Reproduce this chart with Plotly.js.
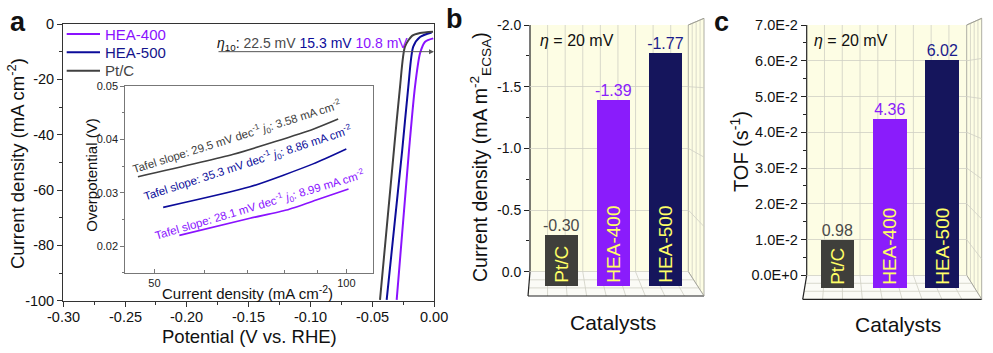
<!DOCTYPE html>
<html><head><meta charset="utf-8">
<script src="https://cdn.plot.ly/plotly-3.0.1.min.js"></script>
<style>html,body{margin:0;padding:0;background:#fff}#chart{width:993px;height:353px}</style>
</head><body><div id="chart"></div>
<script>
// ---------- DATA ----------
// Panel a: LSV polarization curves (potential V vs RHE, current density mA cm-2)
const seriesNames = ['HEA-400', 'HEA-500', 'Pt/C'];
const hea400Potential = [-0.0302, -0.0202, -0.0154, -0.0113, -0.0072, -0.0006];
const hea400Current   = [-99.7, -45.5, -22.7, -10.6, -6.4, -5.2];
const hea500Potential = [-0.0383, -0.0257, -0.0208, -0.0168, -0.0113, -0.0019];
const hea500Current   = [-99.7, -45.5, -22.7, -8.2, -4.7, -3.1];
const ptcPotential    = [-0.0437, -0.0324, -0.0275, -0.0235, -0.0178, -0.0113, -0.0008];
const ptcCurrent      = [-99.7, -45.5, -22.7, -8.2, -4.3, -3.25, -2.8];
const eta10Labels = ['22.5 mV', '15.3 mV', '10.8 mV'];
const eta10Current = -10;
// Inset: Tafel plots (current density mA cm-2, overpotential V)
const ptcTafelJ = [47.1, 66.5, 88.7, 97.1];
const ptcTafelEta = [0.0330, 0.0372, 0.0419, 0.0438];
const hea500TafelJ = [51.6, 70.6, 88.7, 100];
const hea500TafelEta = [0.02725, 0.0311, 0.0354, 0.0382];
const hea400TafelJ = [54.7, 70.6, 80.6, 89.7, 100.8];
const hea400TafelEta = [0.0220, 0.0252, 0.02675, 0.02862, 0.0307];
const tafelSlopes = ['29.5', '35.3', '28.1'];   // Pt/C, HEA-500, HEA-400
const tafelJ0 = ['3.58', '8.86', '8.99'];
// Panel b / c: bars
const catalysts = ['Pt/C', 'HEA-400', 'HEA-500'];
const currentECSA = [-0.30, -1.39, -1.77];
const tofValues = [0.0098, 0.0436, 0.0602];
// Tick labels
const aXTicks = [-0.30, -0.25, -0.20, -0.15, -0.10, -0.05, 0.00];
const aXTickText = ['-0.30', '-0.25', '-0.20', '-0.15', '-0.10', '-0.05', '0.00'];
const aYTicks = [-100, -80, -60, -40, -20, 0];
const aYTickText = ['-100', '-80', '-60', '-40', '-20', '0'];
const insetYTicks = [0.02, 0.03, 0.04, 0.05];
const insetYTickText = ['0.02', '0.03', '0.04', '0.05'];
const insetXTicks = [50, 100];
const insetXTickText = ['50', '100'];
const bYTicks = [-2.0, -1.5, -1.0, -0.5, 0.0];
const bYTickText = ['-2.0', '-1.5', '-1.0', '-0.5', '0.0'];
const cYTicks = [0, 0.01, 0.02, 0.03, 0.04, 0.05, 0.06, 0.07];
const cYTickText = ['0.0E+0', '1.0E-2', '2.0E-2', '3.0E-2', '4.0E-2', '5.0E-2', '6.0E-2', '7.0E-2'];

// ---------- STYLE ----------
const W = 993, H = 353;
const FONT = 'Liberation Sans, Arial, sans-serif';
const PURPLE = '#8a12ff', NAVY = '#0c0c9a', GRAY = '#404040';
const SERIES_COLORS = [PURPLE, NAVY, GRAY];
const LEGEND_TEXT = [PURPLE, '#14148c', '#444'];
const BAR_COLORS = ['#3f3f3b', '#8a1cfb', '#15155c'];
const LABEL_COLORS = ['#4a4a4a', '#8a1cfb', '#1c1c8c'];
const WALL = '#fdfde4', GRID = '#cfcfc4';
const X = v => v / W, Y = v => 1 - v / H;

// geometry (pixels)
const A = {x0: 63.3, x1: 434, y0: 24, y1: 300.7};
const INS = {x0: 125.3, x1: 372.7, y0: 86, y1: 272.7};
const B = {x0: 530, x1: 688.3, top: 25, zero: 271.7, front: 296, rx: 704, rtop: 18.3, fx0: 528};
const C = {x0: 806.7, x1: 966.7, top: 25, zero: 275.3, front: 299.3, rx: 981.7, rtop: 18.3, fx0: 802.7};

const traces = [];
const lsv = [[hea400Potential, hea400Current], [hea500Potential, hea500Current], [ptcPotential, ptcCurrent]];
lsv.forEach((s, i) => traces.push({
  type: 'scatter', mode: 'lines', x: s[0], y: s[1], xaxis: 'x', yaxis: 'y', name: seriesNames[i],
  line: {color: SERIES_COLORS[i], width: 2, shape: 'spline', smoothing: 0.7}, showlegend: false
}));
[[ptcTafelJ, ptcTafelEta, GRAY], [hea500TafelJ, hea500TafelEta, NAVY], [hea400TafelJ, hea400TafelEta, PURPLE]].forEach(s => traces.push({
  type: 'scatter', mode: 'lines', x: s[0], y: s[1], xaxis: 'x2', yaxis: 'y2',
  line: {color: s[2], width: 1.6, shape: 'spline', smoothing: 0.6}, showlegend: false
}));

function barTraces(vals, xa, ya, base, textFn) {
  traces.push({
    type: 'bar', x: catalysts, y: vals.map(v => v - base), base: base, xaxis: xa, yaxis: ya,
    width: 0.64, marker: {color: BAR_COLORS, line: {width: 0}},
    text: catalysts, textposition: 'inside', textangle: -90, insidetextanchor: 'start',
    insidetextfont: {color: '#ffff66', size: 19, family: FONT}, constraintext: 'none',
    showlegend: false, hoverinfo: 'skip'
  });
  traces.push({
    type: 'scatter', mode: 'text', x: catalysts, y: vals, xaxis: xa, yaxis: ya,
    text: vals.map(textFn), textposition: 'top center',
    textfont: {color: LABEL_COLORS, size: 16, family: FONT}, showlegend: false, cliponaxis: false
  });
}
barTraces(currentECSA, 'x3', 'y3', 0.113, v => v.toFixed(2));
barTraces(tofValues, 'x4', 'y4', -0.0035, v => (v * 100).toFixed(2));

// ---------- decorations (3D box look) ----------
const shapes = [];
function line(x0, y0, x1, y1, color, w, layer) {
  shapes.push({type: 'line', xref: 'paper', yref: 'paper', x0: X(x0), y0: Y(y0), x1: X(x1), y1: Y(y1),
    line: {color: color, width: w}, layer: layer || 'below'});
}
function poly(pts, fill, lc, lw) {
  const d = pts.map((p, i) => (i ? 'L' : 'M') + X(p[0]) + ',' + Y(p[1])).join(' ') + ' Z';
  shapes.push({type: 'path', xref: 'paper', yref: 'paper', path: d, fillcolor: fill,
    line: {color: lc, width: lw}, layer: 'below'});
}
function box(G, nTicks) {
  poly([[G.x0, G.top], [G.x1, G.top], [G.x1, G.zero], [G.x0, G.zero]], WALL, 'rgba(0,0,0,0)', 0);
  poly([[G.x1, G.top], [G.rx, G.rtop], [G.rx, G.front], [G.x1, G.zero]], WALL, '#9a9a90', 0.8);
  poly([[G.x0, G.zero], [G.x1, G.zero], [G.rx, G.front], [G.fx0, G.front]], '#fbfbf6', 'rgba(0,0,0,0)', 0);
  const n = 9, bw = (G.x1 - G.x0) / n, fw = (G.rx - G.fx0) / n;
  for (let k = 1; k < n; k++) {
    line(G.x0 + k * bw, G.top, G.x0 + k * bw, G.zero, GRID, 0.8);
    line(G.x0 + k * bw, G.zero, G.fx0 + k * fw, G.front, GRID, 0.8);
  }
  for (let t = 1; t < 3; t++) {
    const f = t / 3;
    line(G.x0 + (G.fx0 - G.x0) * f, G.zero + (G.front - G.zero) * f, G.x1 + (G.rx - G.x1) * f, G.zero + (G.front - G.zero) * f, GRID, 0.8);
  }
  for (let j = 1; j < 4; j++) {
    const xx = G.x1 + (G.rx - G.x1) * j / 4;
    const yt = G.top + (G.rtop - G.top) * j / 4, yb = G.zero + (G.front - G.zero) * j / 4;
    line(xx, yt, xx, yb, GRID, 0.8);
  }
  for (let i = 1; i < nTicks; i++) {
    const f = i / nTicks;
    line(G.x1, G.zero - f * (G.zero - G.top), G.rx, G.front - f * (G.front - G.rtop), GRID, 0.8);
  }
  line(G.x0, G.top, G.x0, G.zero, '#222', 1.2);
  line(G.x0, G.zero, G.fx0, G.front, '#222', 1.2);
  line(G.fx0, G.front, G.rx, G.front, '#222', 1.2);
  line(G.x1, G.zero, G.rx, G.front, '#9a9a90', 0.8);
  line(G.x1, G.top, G.rx, G.rtop, '#9a9a90', 0.8);
}
box(B, 4);
box(C, 7);

// ---------- annotations ----------
const ann = [];
function txt(x, y, text, size, opts) {
  ann.push(Object.assign({xref: 'paper', yref: 'paper', x: X(x), y: Y(y), text: text, showarrow: false,
    font: {family: FONT, size: size, color: '#111'}, xanchor: 'center', yanchor: 'middle'}, opts || {}));
}
// legend (drawn by hand for exact spacing)
const legendRows = [34, 52.3, 70.7];
seriesNames.forEach((nm, i) => {
  line(66.7, legendRows[i], 100, legendRows[i], SERIES_COLORS[i], 2, 'above');
  txt(103.3, legendRows[i], nm, 15, {xanchor: 'left', font: {family: FONT, size: 15, color: LEGEND_TEXT[i]}});
});
// panel a x tick labels
aXTicks.forEach((v, i) => ann.push({xref: 'x', yref: 'paper', x: v, y: Y(317), text: aXTickText[i], showarrow: false,
  xanchor: 'center', yanchor: 'middle', font: {family: FONT, size: 14.5, color: '#111'}}));

txt(18, 22, '<b>a</b>', 27);
txt(454, 19, '<b>b</b>', 27);
txt(721, 22, '<b>c</b>', 27);
txt(16, 164, 'Current density (mA cm<sup>-2</sup>)', 18.5, {textangle: -90});
txt(249, 336, 'Potential (V vs. RHE)', 18.5);
txt(480, 157, 'Current density (mA m<sup>-2</sup><sub>ECSA</sub>)', 19.5, {textangle: -90});
txt(613, 322, 'Catalysts', 21);
txt(739, 152, 'TOF (s<sup>-1</sup>)', 20, {textangle: -90});
txt(898, 324, 'Catalysts', 21);
txt(538, 40, '<i>η</i> = 20 mV', 16, {xanchor: 'left'});
txt(812, 40, '<i>η</i> = 20 mV', 16, {xanchor: 'left'});
txt(215, 44, '<i>η</i><sub>10</sub>: <span style="color:#4a4a4a">' + eta10Labels[0] + '</span> <span style="color:' + NAVY + '">' + eta10Labels[1] + '</span> <span style="color:' + PURPLE + '">' + eta10Labels[2] + '</span>', 14, {xanchor: 'left'});
ann.push({xref: 'x', yref: 'y', x: 0, y: eta10Current, ax: -217, ay: 0, axref: 'pixel', ayref: 'pixel',
  showarrow: true, arrowhead: 2, arrowsize: 1, arrowwidth: 1, arrowcolor: '#555', text: ''});
// inset titles and Tafel labels
txt(247, 292, 'Current density (mA cm<sup>-2</sup>)', 15);
txt(90.7, 175, 'Overpotential (V)', 15, {textangle: -90});
const tafelPos = [[236.7, 136.7, -17.5, GRAY], [248.3, 163.3, -18, NAVY], [260, 205, -16.5, PURPLE]];
tafelPos.forEach((p, i) => txt(p[0], p[1], 'Tafel slope: ' + tafelSlopes[i] + ' mV dec<sup>-1</sup> <i>j</i><sub>0</sub>: ' + tafelJ0[i] + ' mA cm<sup>-2</sup>', 11.5, {textangle: p[2], font: {family: FONT, size: 11.5, color: p[3]}}));

const axFont = {family: FONT, size: 14.5, color: '#111'};
const layout = {
  width: W, height: H, margin: {l: 0, r: 0, t: 0, b: 0},
  paper_bgcolor: '#fff', plot_bgcolor: 'rgba(0,0,0,0)', font: {family: FONT, color: '#111'},
  bargap: 0, showlegend: false,
  xaxis: {domain: [X(A.x0), X(A.x1)], anchor: 'y', range: [-0.30, 0], tickmode: 'array', tickvals: aXTicks,
    showticklabels: false, ticks: 'outside', ticklen: 5, tickcolor: '#333', showline: true, mirror: true, linecolor: '#333', linewidth: 1.2,
    showgrid: false, zeroline: false,
    minor: {tickmode: 'linear', tick0: -0.3, dtick: 0.025, ticks: 'outside', ticklen: 3, tickcolor: '#333'}},
  yaxis: {domain: [Y(A.y1), Y(A.y0)], anchor: 'x', range: [-100, 0], tickmode: 'array', tickvals: aYTicks, ticktext: aYTickText,
    ticks: 'outside', ticklen: 5, tickcolor: '#333', showline: true, mirror: true, linecolor: '#333', linewidth: 1.2,
    showgrid: false, zeroline: false, tickfont: axFont,
    minor: {tickmode: 'linear', tick0: 0, dtick: 10, ticks: 'outside', ticklen: 3, tickcolor: '#333'}},
  xaxis2: {domain: [X(INS.x0), X(INS.x1)], anchor: 'y2', type: 'log', range: [Math.log10(45), Math.log10(110)],
    tickmode: 'array', tickvals: insetXTicks, ticktext: insetXTickText, ticks: 'inside', ticklen: 4, tickcolor: '#777',
    showline: true, mirror: true, linecolor: '#777', linewidth: 1, showgrid: false, zeroline: false,
    tickfont: {family: FONT, size: 11, color: '#222'},
    minor: {tickmode: 'array', tickvals: [60, 70, 80, 90], ticks: 'inside', ticklen: 2.5, tickcolor: '#777'}},
  yaxis2: {domain: [Y(INS.y1), Y(INS.y0)], anchor: 'x2', range: [0.015, 0.05], tickmode: 'array', tickvals: insetYTicks, ticktext: insetYTickText,
    ticks: 'outside', ticklen: 4, tickcolor: '#777', showline: true, mirror: true, linecolor: '#777', linewidth: 1,
    showgrid: false, zeroline: false, tickfont: {family: FONT, size: 11, color: '#222'},
    minor: {tickmode: 'linear', tick0: 0.015, dtick: 0.005, ticks: 'outside', ticklen: 2.5, tickcolor: '#777'}},
  xaxis3: {domain: [X(B.x0), X(B.x1)], anchor: 'y3', type: 'category', range: [-0.6, 2.44], showticklabels: false,
    showline: false, showgrid: false, zeroline: false, ticks: ''},
  yaxis3: {domain: [Y(B.front), Y(B.top)], anchor: 'x3', range: [(B.front - B.zero) / ((B.zero - B.top) / 2), -2.0],
    tickmode: 'array', tickvals: bYTicks, ticktext: bYTickText, ticks: 'outside', ticklen: 5, tickcolor: '#222',
    showline: false, showgrid: true, gridcolor: GRID, gridwidth: 0.8, zeroline: false, tickfont: {family: FONT, size: 14, color: '#111'},
    minor: {tickmode: 'array', tickvals: [-1.75, -1.25, -0.75, -0.25], ticks: 'outside', ticklen: 3, tickcolor: '#222'}},
  xaxis4: {domain: [X(C.x0), X(C.x1)], anchor: 'y4', type: 'category', range: [-0.583, 2.465], showticklabels: false,
    showline: false, showgrid: false, zeroline: false, ticks: ''},
  yaxis4: {domain: [Y(C.front), Y(C.top)], anchor: 'x4', range: [-(C.front - C.zero) / ((C.zero - C.top) / 0.07), 0.07],
    tickmode: 'array', tickvals: cYTicks, ticktext: cYTickText, ticks: 'outside', ticklen: 5, tickcolor: '#222',
    showline: false, showgrid: true, gridcolor: GRID, gridwidth: 0.8, zeroline: false, tickfont: {family: FONT, size: 14.5, color: '#111'},
    minor: {tickmode: 'array', tickvals: [0.005, 0.015, 0.025, 0.035, 0.045, 0.055, 0.065], ticks: 'outside', ticklen: 3, tickcolor: '#222'}},
  shapes: shapes, annotations: ann
};
Plotly.newPlot('chart', traces, layout, {staticPlot: true, displayModeBar: false});
</script></body></html>
